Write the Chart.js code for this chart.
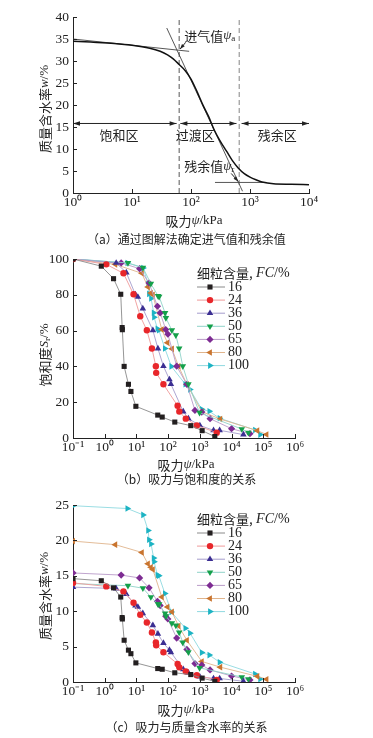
<!DOCTYPE html>
<html>
<head>
<meta charset="utf-8">
<script src="https://cdn.jsdelivr.net/npm/chart.js@4.4.0/dist/chart.umd.min.js"></script>
<style>
  body { margin: 0; background: #fff; width: 373px; height: 738px; position: relative; overflow: hidden; }
  canvas { position: absolute; left: 0; }
  .cap { position: absolute; left: 0; width: 373px; text-align: center; font: 12px "Noto Sans CJK SC"; color: #222; }
</style>
</head>
<body>
<canvas id="chartA" width="373" height="232" style="top:0"></canvas>
<canvas id="chartB" width="373" height="240" style="top:240px"></canvas>
<canvas id="chartC" width="373" height="240" style="top:490px"></canvas>
<div class="cap" style="top:230px">（a）通过图解法确定进气值和残余值</div>
<div class="cap" style="top:470px">（b）吸力与饱和度的关系</div>
<div class="cap" style="top:718px">（c）吸力与质量含水率的关系</div>
<script>
// panel (a): idealised soil-water characteristic curve
const curveSuction = [1, 2, 5, 10, 20, 30, 40, 50, 63, 80, 100, 126, 158, 200, 250, 316, 400, 500, 630, 800, 1000, 1260, 1600, 2500, 5000, 10000];
const curveWater = [34.5, 34.3, 34.0, 33.6, 32.9, 32.2, 31.4, 30.5, 29.2, 27.8, 25.9, 23.1, 20.1, 17.3, 14.2, 11.7, 9.5, 7.4, 5.7, 4.4, 3.6, 3.0, 2.5, 2.1, 2.0, 1.9];
const tanUpperX = [1, 93], tanUpperY = [35, 32.2];
const tanSteepX = [38.8, 747], tanSteepY = [37.5, 0.4];
const tanLowerX = [255, 1900], tanLowerY = [2.4, 2.4];
const airEntry = 63, residual = 656;
const zoneLabels = ['饱和区', '过渡区', '残余区'];

// panels (b) and (c): measured data for each fines content
const fcLabels = ['16', '24', '36', '50', '65', '80', '100'];
const suction16 = [0.1, 0.78, 1.9, 3.2, 3.55, 3.6, 4.1, 5.6, 6.7, 9.6, 47, 65, 162, 517, 1180, 2960];
const sat16 = [100, 96, 89, 80.3, 61.7, 60.5, 40, 30, 26, 17.7, 12.8, 11.7, 8.9, 6.9, 4.1, 0.8];
const water16 = [14.6, 14.3, 13.3, 12.0, 9.1, 8.9, 5.9, 4.5, 4.0, 2.7, 1.9, 1.8, 1.3, 1.05, 0.55, 0.1];
const suction24 = [0.1, 1.12, 3.9, 8.1, 13.2, 21.3, 30.8, 41, 42, 71, 199, 225, 360, 800, 3400];
const sat24 = [100, 97, 92, 80.3, 68, 60.2, 50, 40.1, 36.4, 30, 18, 14.8, 10.8, 7, 3];
const water24 = [14.0, 13.5, 12.8, 11.2, 9.5, 8.4, 7.0, 5.6, 5.2, 4.2, 2.55, 2.07, 1.5, 0.95, 0.3];
const suction36 = [0.1, 2.3, 4.8, 9.3, 11.1, 15.9, 33, 47.6, 71, 110, 122, 300, 435, 1000, 2700, 4200, 23600];
const sat36 = [100, 97.8, 92.4, 80.1, 78.8, 72.3, 60.2, 50, 40.1, 32.7, 30.1, 14.8, 10.8, 7, 4.3, 4.3, 1.9];
const water36 = [13.4, 13.2, 12.4, 10.8, 10.6, 9.7, 8.0, 6.8, 5.5, 4.5, 4.2, 1.8, 1.3, 0.75, 0.5, 0.5, 0.1];
const suction50 = [0.1, 5.4, 16, 28.5, 48, 52, 80, 85, 131, 175, 223, 290, 435, 980, 21000, 34000];
const sat50 = [100, 97.8, 95.2, 86.2, 79.4, 79, 69.9, 67.1, 60.2, 57.4, 50, 40.1, 30.1, 14.1, 5.0, 3.0];
const water50 = [13.9, 13.6, 13.25, 12.0, 11.0, 11.0, 9.7, 9.3, 8.3, 8.0, 7.0, 5.6, 4.2, 2.0, 0.7, 0.42];
const suction65 = [0.1, 3.3, 12.6, 25, 46, 56, 84, 98, 186, 390, 700, 1150, 2100, 10000, 38000];
const sat65 = [100, 97.8, 94.6, 86.6, 73.6, 69.9, 60.6, 58, 40.1, 30, 15.4, 14.5, 10.8, 5.2, 2.4];
const water65 = [15.4, 15.1, 14.7, 13.3, 11.4, 10.8, 9.3, 8.9, 6.2, 4.6, 2.6, 2.4, 1.7, 0.85, 0.3];
const suction80 = [0.1, 2.15, 14.8, 23, 28.5, 33, 63, 95, 132, 213, 390, 1150, 4400, 65000, 126000];
const sat80 = [100, 97, 92, 84.4, 81, 80, 60.6, 53.2, 49.8, 40.1, 30, 14.7, 10.6, 4.1, 2.0];
const water80 = [19.9, 19.4, 18.3, 16.7, 16.2, 15.9, 12.0, 10.6, 9.9, 7.9, 5.9, 2.9, 2.1, 0.8, 0.4];
const suction100 = [0.1, 5.2, 16.3, 23.4, 25, 29, 35, 36, 46, 51, 79, 126, 350, 490, 1150, 2000, 4200, 55000, 80000];
const sat100 = [100, 97.8, 95, 86, 80.5, 78, 70, 67.5, 61, 60.2, 50, 40, 30, 27.1, 16, 14.9, 11, 4.5, 1.9];
const water100 = [24.9, 24.5, 23.6, 21.4, 20.1, 19.5, 17.5, 17.0, 15.1, 15.0, 12.5, 9.9, 7.6, 6.9, 4.15, 3.8, 2.8, 1.13, 0.42];

// tick labels
const decadesA = [1, 10, 100, 1000, 10000];
const decadeLabelsA = ['10⁰', '10¹', '10²', '10³', '10⁴'];
const decadesB = [0.1, 1, 10, 100, 1000, 10000, 100000, 1000000];
const decadeLabelsB = ['10⁻¹', '10⁰', '10¹', '10²', '10³', '10⁴', '10⁵', '10⁶'];

const suctions = [suction16, suction24, suction36, suction50, suction65, suction80, suction100];
const sats = [sat16, sat24, sat36, sat50, sat65, sat80, sat100];
const waters = [water16, water24, water36, water50, water65, water80, water100];

const markerColors = ['#231f20', '#e8262a', '#3b2e92', '#14a04a', '#7d2b92', '#c9742e', '#1cb3c3'];
const lineColors = ['#8a8a8a', '#ef9a9a', '#a49ccc', '#8fd3c8', '#b99bc8', '#e0b48c', '#8fd9e0'];
const markerStyles = ['rect', 'circle', 'triangle', 'triangle', 'rectRot', 'triangle', 'triangle'];
const markerRot = [0, 0, 0, 180, 0, 270, 90];
const markerSize = [3.6, 3.2, 3.8, 3.8, 3.6, 3.8, 3.8];

const CJK = '"Noto Sans CJK SC"';
const SERIF = '"Liberation Serif"';
const INK = '#222';

function richText(ctx, parts, x, y, align) {
  let w = 0;
  parts.forEach(p => { ctx.font = p.f; w += ctx.measureText(p.t).width; });
  let cx = align === 'left' ? x : x - w / 2;
  ctx.textBaseline = 'middle';
  ctx.textAlign = 'left';
  parts.forEach(p => {
    ctx.font = p.f;
    ctx.fillText(p.t, cx, y + (p.dy || 0));
    cx += ctx.measureText(p.t).width;
  });
}

function arrowHead(ctx, x, y, angle, len, half) {
  ctx.save();
  ctx.translate(x, y);
  ctx.rotate(angle);
  ctx.beginPath();
  ctx.moveTo(0, 0);
  ctx.lineTo(-len, -half);
  ctx.lineTo(-len, half);
  ctx.closePath();
  ctx.fill();
  ctx.restore();
}

function drawMarker(ctx, i, x, y) {
  const r = markerSize[i];
  ctx.save();
  ctx.fillStyle = markerColors[i];
  ctx.translate(x, y);
  ctx.rotate(markerRot[i] * Math.PI / 180);
  ctx.beginPath();
  if (markerStyles[i] === 'rect') {
    const s = r * Math.SQRT1_2;
    ctx.rect(-s, -s, 2 * s, 2 * s);
  } else if (markerStyles[i] === 'circle') {
    ctx.arc(0, 0, r, 0, Math.PI * 2);
  } else if (markerStyles[i] === 'rectRot') {
    ctx.moveTo(0, -r); ctx.lineTo(r, 0); ctx.lineTo(0, r); ctx.lineTo(-r, 0); ctx.closePath();
  } else {
    for (let k = 0; k < 3; k++) {
      const a = -Math.PI / 2 + k * 2 * Math.PI / 3;
      if (k === 0) ctx.moveTo(r * Math.cos(a), r * Math.sin(a));
      else ctx.lineTo(r * Math.cos(a), r * Math.sin(a));
    }
    ctx.closePath();
  }
  ctx.fill();
  ctx.restore();
}

// short tick marks pointing into the plot, like the printed figure
const inwardTicks = {
  id: 'inwardTicks',
  afterDraw(chart) {
    const { ctx, chartArea: a, scales: { x, y } } = chart;
    ctx.save();
    ctx.strokeStyle = INK;
    ctx.lineWidth = 1;
    x.ticks.forEach(t => {
      const px = Math.round(x.getPixelForValue(t.value)) + 0.5;
      ctx.beginPath(); ctx.moveTo(px, a.bottom); ctx.lineTo(px, a.bottom - 4); ctx.stroke();
    });
    y.ticks.forEach(t => {
      const py = Math.round(y.getPixelForValue(t.value)) + 0.5;
      ctx.beginPath(); ctx.moveTo(a.left, py); ctx.lineTo(a.left + 4, py); ctx.stroke();
    });
    ctx.restore();
  }
};

function axisTitles(xParts, xPos, yParts, yPos) {
  return {
    id: 'axisTitles',
    afterDraw(chart) {
      const ctx = chart.ctx;
      ctx.save();
      ctx.fillStyle = INK;
      richText(ctx, xParts, xPos[0], xPos[1]);
      ctx.translate(yPos[0], yPos[1]);
      ctx.rotate(-Math.PI / 2);
      richText(ctx, yParts, 0, 0);
      ctx.restore();
    }
  };
}

function fcLegend(left, top) {
  return {
    id: 'fcLegend',
    afterDraw(chart) {
      const ctx = chart.ctx;
      ctx.save();
      ctx.fillStyle = INK;
      richText(ctx, [
        { t: '细粒含量,', f: '13px ' + CJK },
        { t: ' FC', f: 'italic 14px ' + SERIF },
        { t: '/%', f: '14px ' + SERIF }
      ], left, top, 'left');
      fcLabels.forEach((lab, i) => {
        const y = top + 14 + i * 13.1;
        ctx.strokeStyle = lineColors[i];
        ctx.lineWidth = 1;
        ctx.beginPath(); ctx.moveTo(left, y); ctx.lineTo(left + 28, y); ctx.stroke();
        drawMarker(ctx, i, left + 13, y);
        ctx.fillStyle = INK;
        richText(ctx, [{ t: lab, f: '14px ' + SERIF }], left + 31, y, 'left');
      });
      ctx.restore();
    }
  };
}

function logAxis(min, max, values, labels) {
  return {
    type: 'logarithmic',
    min: min,
    max: max,
    afterBuildTicks: s => { s.ticks = values.map(v => ({ value: v })); },
    ticks: {
      autoSkip: false,
      maxRotation: 0,
      padding: 1,
      color: INK,
      font: { family: 'Liberation Serif', size: 13.5 },
      callback: v => labels[values.indexOf(v)] || ''
    },
    grid: { drawOnChartArea: false, drawTicks: false },
    border: { color: INK, width: 1 }
  };
}

function linAxis(max, step) {
  return {
    type: 'linear',
    min: 0,
    max: max,
    ticks: { stepSize: step, padding: 4, color: INK, font: { family: 'Liberation Serif', size: 13.5 } },
    grid: { drawOnChartArea: false, drawTicks: false },
    border: { color: INK, width: 1 }
  };
}

function fixedBox(area, W, H) {
  return { padding: { top: area.t, right: W - area.r, left: 0, bottom: 0 } };
}

function pairs(xs, ys) {
  return xs.map((x, j) => ({ x: x, y: ys[j] }));
}

function seriesSets(yArrays) {
  return fcLabels.map((lab, i) => ({
    label: lab,
    data: pairs(suctions[i], yArrays[i]),
    showLine: true,
    borderColor: lineColors[i],
    borderWidth: 0.9,
    pointStyle: markerStyles[i],
    pointRotation: markerRot[i],
    pointRadius: markerSize[i],
    pointBackgroundColor: markerColors[i],
    pointBorderColor: markerColors[i],
    pointBorderWidth: 0
  }));
}

function baseOptions(area, W, H, xAxis, yAxis) {
  xAxis.afterFit = s => { s.height = H - area.b; };
  yAxis.afterFit = s => { s.width = area.l; };
  return {
    responsive: false,
    animation: false,
    layout: fixedBox(area, W, H),
    scales: { x: xAxis, y: yAxis },
    plugins: { legend: { display: false }, tooltip: { enabled: false } }
  };
}

// ---------- (a) ----------
const areaA = { l: 73, r: 309, t: 17, b: 193 };
const zoneMarks = {
  id: 'zoneMarks',
  afterDraw(chart) {
    const { ctx, scales: { x, y } } = chart;
    const yy = y.getPixelForValue(15.8);
    const spans = [[1, 57], [66, 590], [720, 10000]];
    ctx.save();
    ctx.strokeStyle = INK;
    ctx.fillStyle = INK;
    ctx.lineWidth = 1;
    spans.forEach(sp => {
      const x0 = x.getPixelForValue(sp[0]), x1 = x.getPixelForValue(sp[1]);
      ctx.beginPath(); ctx.moveTo(x0, yy); ctx.lineTo(x1, yy); ctx.stroke();
      arrowHead(ctx, x0, yy, Math.PI, 7, 2.3);
      arrowHead(ctx, x1, yy, 0, 7, 2.3);
    });
    const lab = [6, 118, 2900];
    zoneLabels.forEach((t, i) => {
      richText(ctx, [{ t: t, f: '13px ' + CJK }], x.getPixelForValue(lab[i]), y.getPixelForValue(13.2));
    });
    // air-entry value
    const pa = { x: x.getPixelForValue(airEntry), y: y.getPixelForValue(32.5) };
    richText(ctx, [
      { t: '进气值', f: '13px ' + CJK },
      { t: 'ψ', f: 'italic 13px ' + SERIF },
      { t: 'a', f: '9px ' + SERIF, dy: 3 }
    ], pa.x + 5, pa.y - 14, 'left');
    ctx.beginPath(); ctx.moveTo(pa.x + 6, pa.y - 7); ctx.lineTo(pa.x + 1, pa.y - 1); ctx.stroke();
    arrowHead(ctx, pa.x + 1, pa.y - 1, Math.atan2(6, -5), 5, 1.8);
    // residual value
    const pr = { x: x.getPixelForValue(residual), y: y.getPixelForValue(2.4) };
    richText(ctx, [
      { t: '残余值', f: '13px ' + CJK },
      { t: 'ψ', f: 'italic 13px ' + SERIF },
      { t: 'r', f: '9px ' + SERIF, dy: 3 }
    ], pr.x - 55, pr.y - 16, 'left');
    ctx.beginPath(); ctx.moveTo(pr.x - 8, pr.y - 9); ctx.lineTo(pr.x - 1, pr.y - 1); ctx.stroke();
    arrowHead(ctx, pr.x - 1, pr.y - 1, Math.atan2(8, 7), 5, 1.8);
    ctx.restore();
  }
};

const thin = (xs, ys, color, dash) => ({
  data: pairs(xs, ys), showLine: true, borderColor: color, borderWidth: 0.9,
  borderDash: dash || [], pointRadius: 0
});

new Chart(document.getElementById('chartA'), {
  type: 'scatter',
  data: {
    datasets: [
      {
        data: pairs(curveSuction, curveWater), showLine: true, borderColor: '#111', borderWidth: 1.5,
        pointRadius: 0, cubicInterpolationMode: 'monotone'
      },
      thin(tanUpperX, tanUpperY, '#444'),
      thin(tanSteepX, tanSteepY, '#444'),
      thin(tanLowerX, tanLowerY, '#444'),
      thin([airEntry, airEntry], [0, 40], '#444', [5, 3]),
      thin([residual, residual], [0, 40], '#777', [5, 3])
    ]
  },
  options: baseOptions(areaA, 373, 232, logAxis(1, 10000, decadesA, decadeLabelsA), linAxis(40, 5)),
  plugins: [inwardTicks, zoneMarks, axisTitles(
    [{ t: '吸力', f: '13px ' + CJK }, { t: 'ψ', f: 'italic 13px ' + SERIF }, { t: '/kPa', f: '13px ' + SERIF }],
    [194, 221],
    [{ t: '质量含水率', f: '13px ' + CJK }, { t: 'w', f: 'italic 13px ' + SERIF }, { t: '/%', f: '13px ' + SERIF }],
    [45, 109]
  )]
});

// ---------- (b) ----------
const areaB = { l: 73, r: 295, t: 19, b: 198 };
new Chart(document.getElementById('chartB'), {
  type: 'scatter',
  data: { datasets: seriesSets(sats) },
  options: baseOptions(areaB, 373, 240, logAxis(0.1, 1000000, decadesB, decadeLabelsB), linAxis(100, 20)),
  plugins: [inwardTicks, fcLegend(197, 33), axisTitles(
    [{ t: '吸力', f: '13px ' + CJK }, { t: 'ψ', f: 'italic 13px ' + SERIF }, { t: '/kPa', f: '13px ' + SERIF }],
    [186, 225],
    [{ t: '饱和度', f: '13px ' + CJK }, { t: 'S', f: 'italic 13px ' + SERIF }, { t: 'r', f: '9px ' + SERIF, dy: 3 }, { t: '/%', f: '13px ' + SERIF }],
    [45, 115]
  )]
});

// ---------- (c) ----------
const areaC = { l: 73, r: 295, t: 15, b: 192 };
new Chart(document.getElementById('chartC'), {
  type: 'scatter',
  data: { datasets: seriesSets(waters) },
  options: baseOptions(areaC, 373, 240, logAxis(0.1, 1000000, decadesB, decadeLabelsB), linAxis(25, 5)),
  plugins: [inwardTicks, fcLegend(197, 29), axisTitles(
    [{ t: '吸力', f: '13px ' + CJK }, { t: 'ψ', f: 'italic 13px ' + SERIF }, { t: '/kPa', f: '13px ' + SERIF }],
    [186, 220],
    [{ t: '质量含水率', f: '13px ' + CJK }, { t: 'w', f: 'italic 13px ' + SERIF }, { t: '/%', f: '13px ' + SERIF }],
    [45, 106]
  )]
});
</script>
</body>
</html>
